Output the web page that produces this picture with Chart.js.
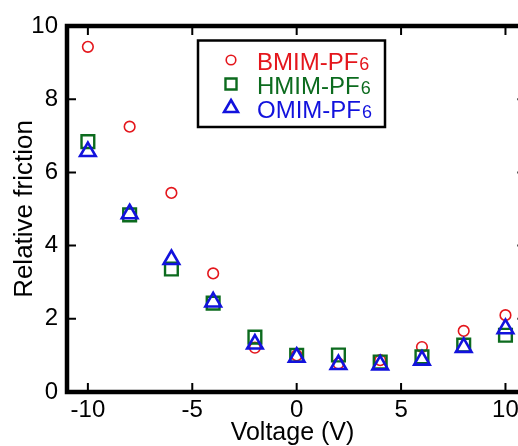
<!DOCTYPE html>
<html>
<head>
<meta charset="utf-8">
<script src="https://cdn.jsdelivr.net/npm/chart.js@4/dist/chart.umd.min.js"></script>
<style>
  html, body { margin: 0; padding: 0; background: #fff; overflow: hidden; }
  #wrap { width: 518px; height: 446px; }
</style>
</head>
<body>
<div id="wrap"><canvas id="frictionChart" width="518" height="446"></canvas></div>
<script>
// data
const voltage = [-10, -8, -6, -4, -2, 0, 2, 4, 6, 8, 10];
const bmim = [9.43, 7.25, 5.44, 3.24, 1.21, 1.0, 0.78, 0.87, 1.23, 1.67, 2.1];
const hmim = [6.84, 4.84, 3.36, 2.43, 1.5, 1.0, 1.01, 0.82, 0.96, 1.28, 1.55];
const omim = [6.57, 4.87, 3.62, 2.46, 1.31, 0.95, 0.75, 0.74, 0.87, 1.22, 1.73];
const seriesNames = ['BMIM-PF6', 'HMIM-PF6', 'OMIM-PF6'];
const xTicks = [-10, -5, 0, 5, 10];
const yTicks = [0, 2, 4, 6, 8, 10];
// the figure is cropped: its frame ends at 11 V, just past the right edge
const xFrameMax = 11;

const RED = '#e4161c';
const GREEN = '#0c6b1e';
const BLUE = '#1212dd';
const FONT = '"Liberation Sans", Arial, Helvetica, sans-serif';

const toPoints = (ys) => voltage.map((v, i) => ({ x: v, y: ys[i] }));

// box + inward ticks on all four sides
const framePlugin = {
    id: 'frame',
    beforeDatasetsDraw(chart) {
        const { ctx, chartArea: a, scales: { x, y } } = chart;
        const right = x.getPixelForValue(xFrameMax);
        ctx.save();
        ctx.strokeStyle = '#000';
        ctx.lineWidth = 2;
        ctx.beginPath();
        x.ticks.forEach(t => {
            const px = x.getPixelForValue(t.value);
            ctx.moveTo(px, a.bottom); ctx.lineTo(px, a.bottom - 9);
            ctx.moveTo(px, a.top); ctx.lineTo(px, a.top + 9);
        });
        y.ticks.forEach(t => {
            const py = y.getPixelForValue(t.value);
            ctx.moveTo(a.left, py); ctx.lineTo(a.left + 9, py);
            ctx.moveTo(right, py); ctx.lineTo(right - 9, py);
        });
        ctx.stroke();
        ctx.lineWidth = 4.5;
        ctx.strokeRect(a.left, a.top, right - a.left, a.bottom - a.top);
        ctx.restore();
    }
};

function drawMarker(ctx, style, cx, cy, r, color, lw) {
    ctx.save();
    ctx.strokeStyle = color;
    ctx.lineWidth = lw;
    ctx.beginPath();
    if (style === 'circle') {
        ctx.arc(cx, cy, r, 0, Math.PI * 2);
    } else if (style === 'rect') {
        const s = r * Math.SQRT1_2;
        ctx.rect(cx - s, cy - s, 2 * s, 2 * s);
    } else {
        const w = r * Math.sin(Math.PI / 3);
        ctx.moveTo(cx, cy - r);
        ctx.lineTo(cx + w, cy + r / 2);
        ctx.lineTo(cx - w, cy + r / 2);
        ctx.closePath();
    }
    ctx.stroke();
    ctx.restore();
}

// framed legend with the small "6"
const legendPlugin = {
    id: 'boxLegend',
    afterDraw(chart) {
        const ctx = chart.ctx;
        const legendSizes = [4.8, 7.8, 8];
        ctx.save();
        ctx.strokeStyle = '#000';
        ctx.lineWidth = 2.5;
        ctx.strokeRect(198, 40.5, 187, 86.5);
        chart.data.datasets.forEach((ds, i) => {
            const rowY = 70 + i * 24;
            drawMarker(ctx, ds.pointStyle, 231, rowY - 10, legendSizes[i], ds.borderColor, ds.pointBorderWidth);
            const name = seriesNames[i];
            const main = name.slice(0, -1);
            const sub = name.slice(-1);
            ctx.fillStyle = ds.borderColor;
            ctx.textBaseline = 'alphabetic';
            ctx.textAlign = 'left';
            ctx.font = '24px ' + FONT;
            ctx.fillText(main, 257, rowY);
            const w = ctx.measureText(main).width;
            ctx.font = '18px ' + FONT;
            ctx.fillText(sub, 257 + w + 1, rowY);
        });
        ctx.restore();
    }
};

const ctx = document.getElementById('frictionChart').getContext('2d');
const frictionChart = new Chart(ctx, {
    type: 'scatter',
    data: {
        datasets: [
            {
                label: seriesNames[0],
                data: toPoints(bmim),
                pointStyle: 'circle',
                pointRadius: 5.3,
                pointBorderWidth: 1.6,
                borderColor: RED,
                backgroundColor: 'rgba(0,0,0,0)',
                pointBackgroundColor: 'rgba(0,0,0,0)',
                pointBorderColor: RED,
                order: 3
            },
            {
                label: seriesNames[1],
                data: toPoints(hmim),
                pointStyle: 'rect',
                pointRadius: 9,
                pointBorderWidth: 2.4,
                borderColor: GREEN,
                backgroundColor: 'rgba(0,0,0,0)',
                pointBackgroundColor: 'rgba(0,0,0,0)',
                pointBorderColor: GREEN,
                order: 2
            },
            {
                label: seriesNames[2],
                data: toPoints(omim),
                pointStyle: 'triangle',
                pointRadius: 9,
                pointBorderWidth: 2.6,
                borderColor: BLUE,
                backgroundColor: 'rgba(0,0,0,0)',
                pointBackgroundColor: 'rgba(0,0,0,0)',
                pointBorderColor: BLUE,
                order: 1
            }
        ]
    },
    options: {
        responsive: false,
        animation: false,
        events: [],
        layout: { autoPadding: false, padding: { top: 26, right: 0, bottom: 0, left: 0 } },
        plugins: {
            legend: { display: false },
            tooltip: { enabled: false }
        },
        scales: {
            x: {
                type: 'linear',
                position: 'bottom',
                min: -11,
                max: 10.6,
                afterFit: (scale) => {
                    scale.height = 54;
                    scale.paddingLeft = 0;
                    scale.paddingRight = 0;
                },
                afterBuildTicks: (scale) => { scale.ticks = xTicks.map(v => ({ value: v })); },
                grid: { display: false, drawTicks: false },
                border: { display: false },
                ticks: {
                    includeBounds: false,
                    padding: 4,
                    color: '#000',
                    font: { family: FONT, size: 24 },
                    maxRotation: 0
                },
                title: {
                    display: true,
                    text: 'Voltage (V)',
                    color: '#000',
                    font: { family: FONT, size: 25, lineHeight: 1 },
                    padding: { top: 0, bottom: 0 }
                }
            },
            y: {
                type: 'linear',
                position: 'left',
                min: 0,
                max: 10,
                afterFit: (scale) => { scale.width = 67; },
                afterBuildTicks: (scale) => { scale.ticks = yTicks.map(v => ({ value: v })); },
                grid: { display: false, drawTicks: false },
                border: { display: false },
                ticks: {
                    padding: 9,
                    color: '#000',
                    font: { family: FONT, size: 24 }
                },
                title: {
                    display: true,
                    text: 'Relative friction',
                    color: '#000',
                    font: { family: FONT, size: 26, lineHeight: 1 },
                    padding: { top: 11.5, bottom: 0 }
                }
            }
        }
    },
    plugins: [framePlugin, legendPlugin]
});
</script>
</body>
</html>
